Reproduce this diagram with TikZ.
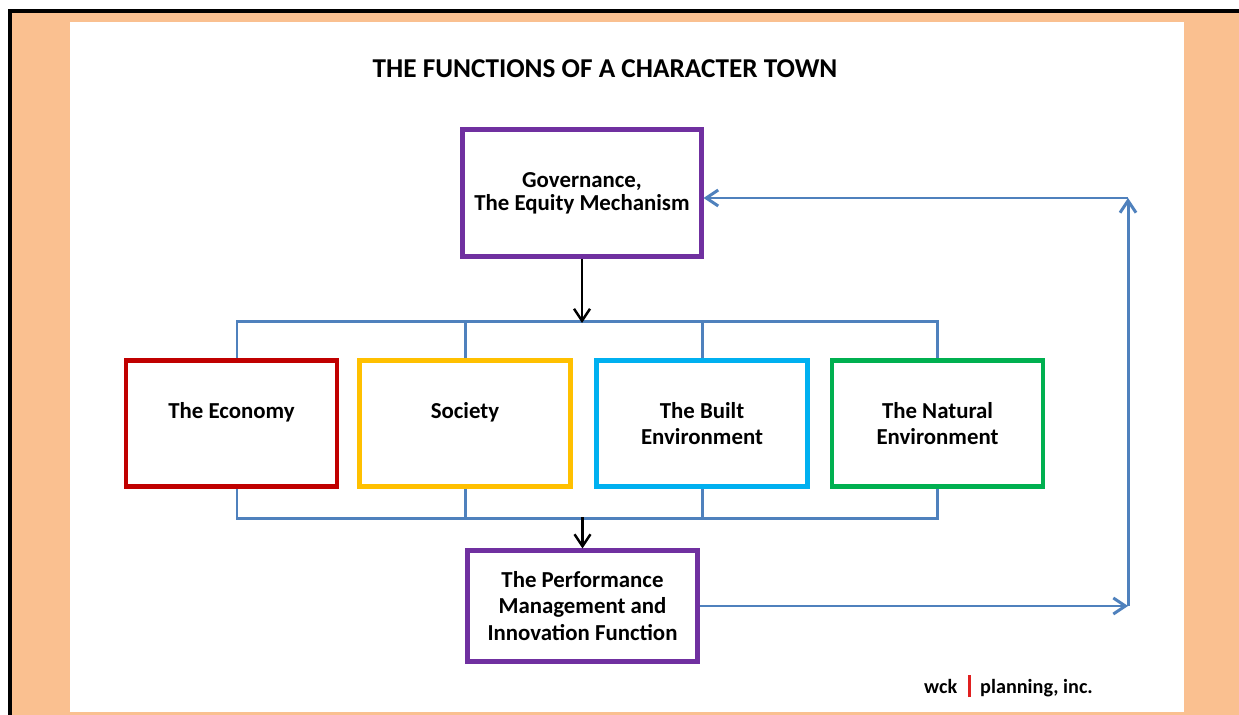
\documentclass[tikz,border=0pt]{standalone}
\usepackage{fontspec}
\setmainfont{Carlito}
\usepackage{tikz}
\usepackage{xcolor}
\usetikzlibrary{positioning, arrows.meta}

\definecolor{govpurple}{HTML}{7030A0}
\definecolor{econred}{HTML}{C00000}
\definecolor{socgold}{HTML}{FFC000}
\definecolor{builtblue}{HTML}{00B0F0}
\definecolor{natgreen}{HTML}{00B050}
\definecolor{linkblue}{HTML}{4F81BD}
\definecolor{peach}{HTML}{FAC090}
\definecolor{logored}{HTML}{E02020}

\begin{document}
\begin{tikzpicture}[
    framebox/.style={rectangle, draw, line width=2.3pt, fill=white, minimum width=4.22cm, minimum height=2.52cm, align=center, font=\fontsize{13}{15}\selectfont\bfseries},
    govbox/.style={framebox, draw=govpurple, minimum width=4.78cm, minimum height=2.54cm},
    title/.style={font=\fontsize{15.5}{18}\selectfont\bfseries},
    logo/.style={font=\fontsize{11.5}{14}\selectfont\bfseries},
    bus/.style={draw=linkblue, line width=1.7pt},
    arrow/.style={-{Straight Barb[length=2.4mm, width=3.2mm]}, line width=1.4pt},
    feedback/.style={bus, -{Straight Barb[length=2.4mm, width=3.2mm]}}
]
\useasboundingbox (0,0) rectangle (24.78,-14.3);

% Frame and page
\fill[black] (0.16,-0.18) rectangle (24.78,-14.3);
\fill[peach] (0.24,-0.26) rectangle (24.78,-14.3);
\fill[white] (1.40,-0.44) rectangle (23.68,-14.24);

% Title
\node[title] (title) at (12.10,-1.38) {THE FUNCTIONS OF A CHARACTER TOWN};

% Governance on top
\node[govbox] (gov) at (11.64,-3.86) {Governance,\\[-0.06cm]The Equity Mechanism};

% The four functions
\node[framebox, draw=econred] (econ) at (4.63,-8.47) {The Economy\\\phantom{E}};
\node[framebox, draw=socgold] (soc) at (9.30,-8.47) {Society\\\phantom{E}};
\node[framebox, draw=builtblue] (built) at (14.04,-8.47) {The Built\\Environment};
\node[framebox, draw=natgreen] (nat) at (18.75,-8.47) {The Natural\\Environment};

% Performance box
\node[framebox, draw=govpurple, minimum width=4.6cm, minimum height=2.22cm] (perf) at (11.65,-12.12) {The Performance\\Management and\\Innovation Function};

% Bus above the functions
\coordinate (busin) at (11.64,-6.46);
\draw[bus] ([xshift=0.11cm]econ.north) -- ++(0,0.74) -| (nat.north);
\draw[bus] (soc.north) -- ++(0,0.74);
\draw[bus] (built.north) -- ++(0,0.74);
\draw[arrow] (gov.south) -- (busin);

% Bus below the functions
\coordinate (busout) at (11.65,-10.34);
\draw[bus] ([xshift=0.11cm]econ.south) -- ++(0,-0.6) -| (nat.south);
\draw[bus] (soc.south) -- ++(0,-0.6);
\draw[bus] (built.south) -- ++(0,-0.6);
\draw[arrow] (busout) -- (perf.north);

% Feedback loop back to governance
\coordinate (fcorner) at (22.56,-3.96);
\draw[feedback] (perf.east) -- (perf.east -| fcorner);
\draw[feedback] (perf.east -| fcorner) -- (fcorner);
\draw[feedback] (fcorner) -- (gov.east |- fcorner);

% Logo
\node[logo] (logo) at (20.17,-13.72) {wck\hspace{0.22cm}{\color{logored}\raisebox{-0.08cm}{\rule{0.06cm}{0.44cm}}}\hspace{0.18cm}planning, inc.};

\end{tikzpicture}
\end{document}
